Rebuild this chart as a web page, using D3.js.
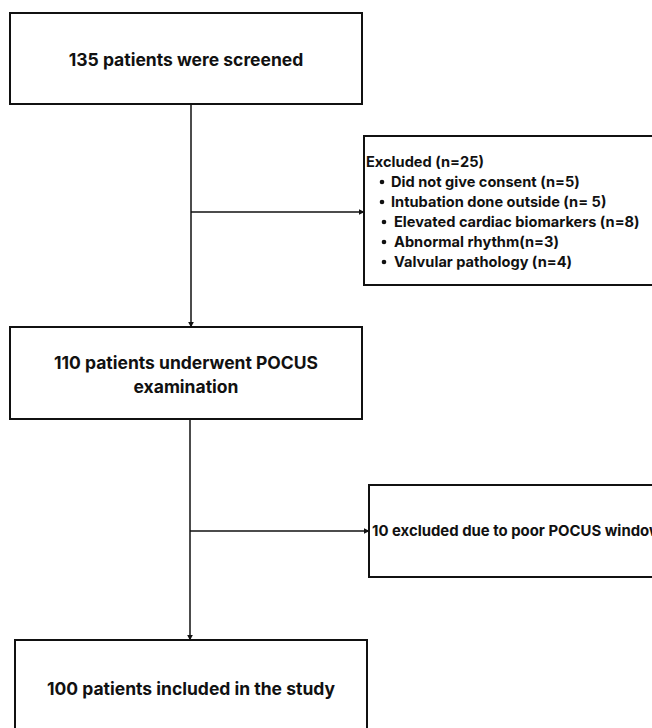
<!DOCTYPE html>
<html lang="en">
<head>
<meta charset="UTF-8">
<title>Patient flow</title>
<script src="https://cdn.jsdelivr.net/npm/d3@7"></script>
<style>
    body { margin: 0; background: #fff; }
    svg { display: block; font-family: Inter, "Noto Sans", sans-serif; }
    .box { fill: #fff; stroke: #111; stroke-width: 2; }
    .link { stroke: #111; stroke-width: 1.5; fill: none; }
    text { fill: #111; font-weight: 700; }
</style>
</head>
<body>
<svg id="flow" width="652" height="728"></svg>
<script>
    // main flow steps
    const stepCounts = [135, 110, 100];
    const stepLabels = [
        ["135 patients were screened"],
        ["110 patients underwent POCUS", "examination"],
        ["100 patients included in the study"]
    ];
    // exclusions
    const excludedTitle = "Excluded (n=25)";
    const excludedReasons = [
        "Did not give consent (n=5)",
        "Intubation done outside (n= 5)",
        "Elevated cardiac biomarkers (n=8)",
        "Abnormal rhythm(n=3)",
        "Valvular pathology (n=4)"
    ];
    const excludedCounts = [5, 5, 8, 3, 4];
    const secondExclusion = "10 excluded due to poor POCUS window";

    // layout (pixels)
    const mainBoxes = [
        { x0: 10, x1: 362, y0: 13, y1: 104, ty: 59 },
        { x0: 10, x1: 362, y0: 327, y1: 419, ty: 362 },
        { x0: 15, x1: 367, y0: 640, y1: 760, ty: 688 }
    ];
    const sideBoxes = [
        { x0: 364, x1: 700, y0: 136, y1: 285, branchY: 212 },
        { x0: 369, x1: 700, y0: 485, y1: 577, branchY: 531 }
    ];
    const trunkX = 191;

    const svg = d3.select("#flow");

    const defs = svg.append("defs");
    defs.append("marker")
        .attr("id", "arrow")
        .attr("viewBox", "0 0 10 10")
        .attr("refX", 9).attr("refY", 5)
        .attr("markerWidth", 6).attr("markerHeight", 6)
        .attr("markerUnits", "userSpaceOnUse")
        .attr("orient", "auto")
        .append("path")
        .attr("d", "M0,0 L10,5 L0,10 z")
        .attr("fill", "#111");

    // connectors
    const links = svg.append("g");
    mainBoxes.slice(0, -1).forEach((b, i) => {
        const next = mainBoxes[i + 1];
        const x = i === 0 ? trunkX : 190;
        links.append("line").attr("class", "link")
            .attr("x1", x).attr("y1", b.y1)
            .attr("x2", x).attr("y2", next.y0)
            .attr("marker-end", "url(#arrow)");
        const s = sideBoxes[i];
        links.append("line").attr("class", "link")
            .attr("x1", x).attr("y1", s.branchY)
            .attr("x2", s.x0).attr("y2", s.branchY)
            .attr("marker-end", "url(#arrow)");
    });

    // main boxes
    const main = svg.append("g").selectAll("g")
        .data(mainBoxes)
        .join("g");
    main.append("rect").attr("class", "box")
        .attr("x", d => d.x0).attr("y", d => d.y0)
        .attr("width", d => d.x1 - d.x0).attr("height", d => d.y1 - d.y0);
    main.each(function (d, i) {
        const g = d3.select(this);
        stepLabels[i].forEach((t, j) => {
            g.append("text")
                .attr("x", (d.x0 + d.x1) / 2)
                .attr("y", d.ty + j * 24)
                .attr("text-anchor", "middle")
                .attr("dominant-baseline", "central")
                .attr("font-size", 17.5)
                .text(t);
        });
    });

    // side boxes
    svg.append("g").selectAll("rect")
        .data(sideBoxes)
        .join("rect").attr("class", "box")
        .attr("x", d => d.x0).attr("y", d => d.y0)
        .attr("width", d => d.x1 - d.x0).attr("height", d => d.y1 - d.y0);

    const ex = svg.append("g");
    ex.append("text")
        .attr("x", 366).attr("y", 162)
        .attr("dominant-baseline", "central")
        .attr("font-size", 14.6)
        .text(excludedTitle);

    const lineY = d3.scalePoint()
        .domain(d3.range(excludedReasons.length))
        .range([182, 262]);
    const reasons = ex.selectAll("g.reason")
        .data(excludedReasons)
        .join("g").attr("class", "reason");
    reasons.append("circle")
        .attr("cx", (d, i) => i < 2 ? 382 : 384)
        .attr("cy", (d, i) => lineY(i))
        .attr("r", 2.3)
        .attr("fill", "#111");
    reasons.append("text")
        .attr("x", (d, i) => i < 2 ? 391 : 394)
        .attr("y", (d, i) => lineY(i))
        .attr("dominant-baseline", "central")
        .attr("font-size", 14.6)
        .text(d => d);

    svg.append("text")
        .attr("x", 372).attr("y", sideBoxes[1].branchY)
        .attr("dominant-baseline", "central")
        .attr("font-size", 14.9)
        .text(secondExclusion);
</script>
</body>
</html>
